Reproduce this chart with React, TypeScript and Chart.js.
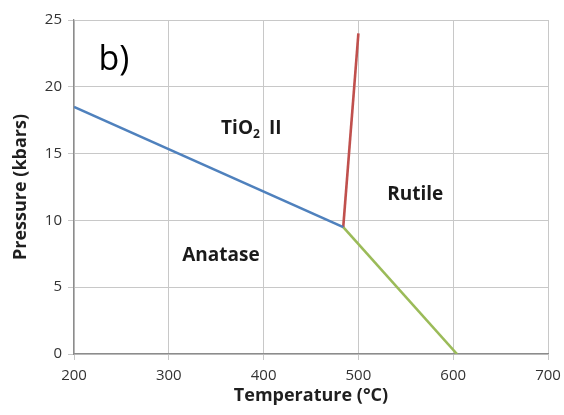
import React, { useEffect, useRef } from "react";
import { Chart, registerables } from "chart.js";

Chart.register(...registerables);

// Phase boundaries of TiO2 (temperature in °C, pressure in kbars)
const anataseTio2Temp = [200, 484];
const anataseTio2Pres = [18.5, 9.5];
const tio2RutileTemp = [484, 500];
const tio2RutilePres = [9.5, 24];
const anataseRutileTemp = [484, 604];
const anataseRutilePres = [9.5, 0];

const xTicks = [200, 300, 400, 500, 600, 700];
const yTicks = [0, 5, 10, 15, 20, 25];

// Phase field names placed in data coordinates
const fieldNames = ["TiO2 II", "Rutile", "Anatase"];
const fieldTemp = [387, 560, 355];
const fieldPres = [16.9, 11.9, 7.4];

const panelLabel = "b)";
const panelTemp = [242];
const panelPres = [22];

const FONT = "'Open Sans', 'Liberation Sans', sans-serif";

const toPoints = (xs: number[], ys: number[]) => xs.map((x, i) => ({ x, y: ys[i] }));

const labelPlugin = {
  id: "phaseLabels",
  afterDatasetsDraw(chart: any) {
    const { ctx, scales } = chart;
    const xs = scales.x;
    const ys = scales.y;
    const big = `bold 19px ${FONT}`;
    const small = `bold 12px ${FONT}`;
    ctx.save();
    ctx.fillStyle = "#1a1a1a";
    ctx.textBaseline = "middle";
    fieldNames.forEach((name, i) => {
      const px = xs.getPixelForValue(fieldTemp[i]);
      const py = ys.getPixelForValue(fieldPres[i]);
      ctx.font = big;
      if (name === "TiO2 II") {
        const a = "TiO";
        const sub = "2";
        const b = "II";
        const gap = 9;
        const wa = ctx.measureText(a).width;
        const wb = ctx.measureText(b).width;
        ctx.font = small;
        const ws = ctx.measureText(sub).width;
        const total = wa + ws + gap + wb;
        let cx = px - total / 2;
        ctx.textAlign = "left";
        ctx.font = big;
        ctx.fillText(a, cx, py);
        cx += wa;
        ctx.font = small;
        ctx.fillText(sub, cx, py + 6);
        cx += ws + gap;
        ctx.font = big;
        ctx.fillText(b, cx, py);
      } else {
        ctx.textAlign = "center";
        ctx.fillText(name, px, py);
      }
    });
    ctx.font = `34px ${FONT}`;
    ctx.fillStyle = "#000";
    ctx.textAlign = "center";
    ctx.fillText(panelLabel, xs.getPixelForValue(panelTemp[0]), ys.getPixelForValue(panelPres[0]));
    ctx.restore();
  },
};

export default function App() {
  const ref = useRef<HTMLCanvasElement | null>(null);

  useEffect(() => {
    if (!ref.current) return;
    const line = (xs: number[], ys: number[], color: string) => ({
      data: toPoints(xs, ys),
      showLine: true,
      borderColor: color,
      backgroundColor: color,
      borderWidth: 2.6,
      pointRadius: 0,
      tension: 0,
    });
    const chart = new Chart(ref.current, {
      type: "scatter",
      data: {
        datasets: [
          line(anataseTio2Temp, anataseTio2Pres, "#4f81bd"),
          line(tio2RutileTemp, tio2RutilePres, "#c0504d"),
          line(anataseRutileTemp, anataseRutilePres, "#9bbb59"),
        ],
      },
      options: {
        animation: false,
        responsive: false,
        layout: { padding: { top: 20, right: 16, left: 0, bottom: 0 } },
        plugins: { legend: { display: false }, tooltip: { enabled: false } },
        scales: {
          x: {
            type: "linear",
            min: 200,
            max: 700,
            afterBuildTicks: (s: any) => {
              s.ticks = xTicks.map((v) => ({ value: v }));
            },
            afterFit: (s: any) => {
              s.height = 61;
              s.paddingLeft = 0;
              s.paddingRight = 0;
            },
            grid: { color: "#c8c8c8", lineWidth: 1, tickLength: 6 },
            border: { color: "#8c8c8c", width: 1.3 },
            ticks: { color: "#333333", font: { family: FONT, size: 15 }, padding: 7 },
            title: {
              display: true,
              text: "Temperature (°C)",
              color: "#1f1f1f",
              font: { family: FONT, size: 18, weight: "bold" },
              padding: { top: 0, bottom: 8 },
            },
          },
          y: {
            type: "linear",
            min: 0,
            max: 25,
            afterBuildTicks: (s: any) => {
              s.ticks = yTicks.map((v) => ({ value: v }));
            },
            afterFit: (s: any) => {
              s.width = 74;
              s.paddingTop = 0;
              s.paddingBottom = 0;
            },
            grid: { color: "#c8c8c8", lineWidth: 1, tickLength: 6 },
            border: { color: "#8c8c8c", width: 1.3 },
            ticks: { color: "#333333", font: { family: FONT, size: 15 }, padding: 6 },
            title: {
              display: true,
              text: "Pressure (kbars)",
              color: "#1f1f1f",
              font: { family: FONT, size: 18, weight: "bold" },
              padding: { top: 10, bottom: 0 },
            },
          },
        },
      },
      plugins: [labelPlugin],
    } as any);
    return () => chart.destroy();
  }, []);

  return (
    <div style={{ position: "fixed", left: 0, top: 0, width: 564, height: 415, background: "#fff" }}>
      <canvas ref={ref} width={564} height={415} style={{ display: "block", width: 564, height: 415 }} />
    </div>
  );
}
